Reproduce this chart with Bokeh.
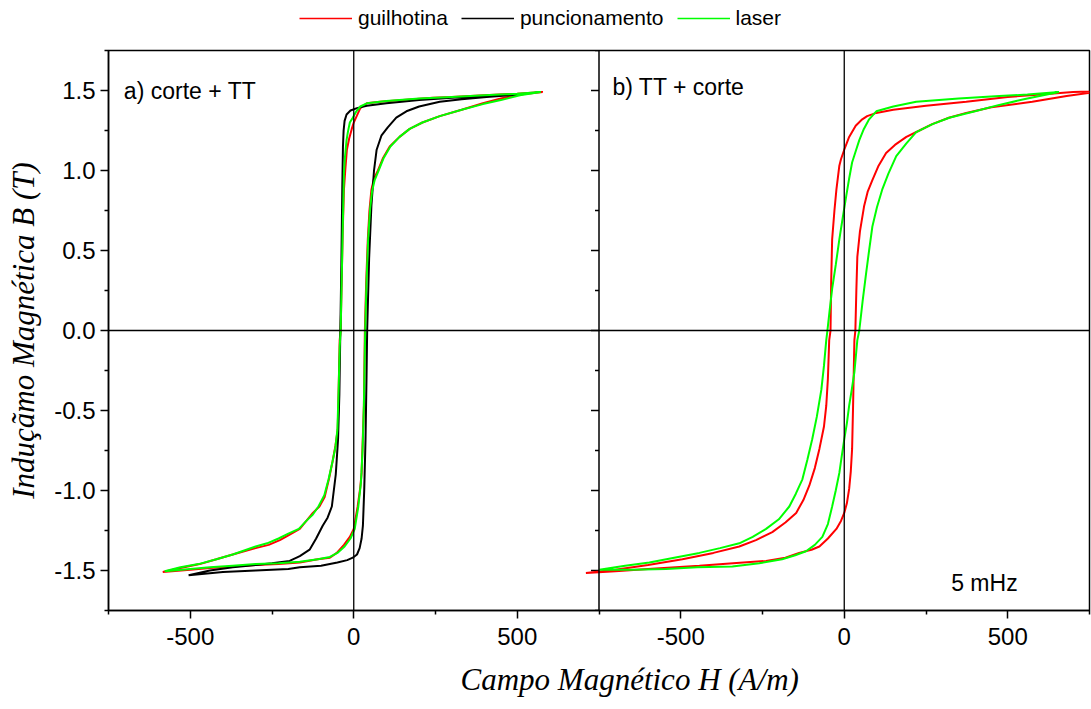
import math
from bokeh.plotting import figure
from bokeh.layouts import column
from bokeh.models import (Range1d, FixedTicker, Span, Label, Legend, LegendItem, Title,
                          PrintfTickFormatter)
from bokeh.embed import file_html
from bokeh.resources import INLINE

# ---------------- data ----------------
# panel a) corte + TT : loops go from +H tip (descending branch) to -H tip and back (ascending)
a_guil_H = [578, 500, 400, 300, 242, 150, 80, 40, 20, 9, 0, -6, -14, -21, -26, -30, -34, -37, -40, -43, -46, -49,
            -56, -64, -75, -89, -105, -125, -145, -165, -200, -226, -260, -300, -335, -370, -420, -471, -530, -584,
            -500, -440, -370, -300, -230, -165, -110, -73, -52, -30, -12, 0, 12, 20, 24, 28, 31, 34, 38, 43, 48,
            54, 62, 74, 90, 110, 140, 171, 210, 263, 330, 395, 450, 508, 578]
a_guil_B = [1.49, 1.48, 1.47, 1.46, 1.455, 1.44, 1.43, 1.42, 1.39, 1.34, 1.30, 1.26, 1.20, 1.13, 1.00, 0.88, 0.60, 0.30, 0.0, -0.06, -0.35, -0.62,
            -0.72, -0.81, -0.92, -1.04, -1.10, -1.14, -1.19, -1.24, -1.28, -1.31, -1.34, -1.36, -1.38, -1.40, -1.43, -1.46, -1.485, -1.51,
            -1.495, -1.485, -1.475, -1.465, -1.46, -1.45, -1.43, -1.42, -1.39, -1.34, -1.29, -1.24, -1.10, -0.98, -0.89, -0.65, -0.47, 0.0, 0.30, 0.57, 0.75,
            0.88, 0.95, 1.00, 1.08, 1.15, 1.21, 1.26, 1.30, 1.34, 1.38, 1.42, 1.45, 1.475, 1.49]

a_punc_H = [508, 400, 300, 200, 100, 40, 10, -10, -22, -28, -31, -33, -35, -38, -41, -44, -48, -55, -67, -80, -95, -115,
            -135, -165, -196, -250, -300, -370, -440, -505,
            -400, -300, -200, -165, -100, -50, -20, -3, 10, 18, 24, 28, 32, 36, 39, 41, 43, 47, 54, 62, 70, 85, 104,
            130, 161, 200, 263, 330, 406, 508]
a_punc_B = [1.475, 1.465, 1.455, 1.44, 1.42, 1.405, 1.39, 1.375, 1.35, 1.31, 1.25, 1.15, 0.90, 0.40, 0.0, -0.40, -0.68, -0.90, -1.10, -1.17, -1.22, -1.30,
            -1.37, -1.41, -1.44, -1.455, -1.465, -1.48, -1.50, -1.53,
            -1.51, -1.50, -1.49, -1.48, -1.47, -1.45, -1.435, -1.42, -1.40, -1.36, -1.30, -1.22, -1.00, -0.68, -0.30, 0.0, 0.15, 0.45, 0.78, 1.00, 1.13, 1.22, 1.27,
            1.33, 1.37, 1.40, 1.43, 1.445, 1.46, 1.475]

a_laser_H = [572, 500, 400, 300, 200, 100, 40, 20, 8, -3, -12, -18, -22, -27, -30, -34, -37, -40, -43, -46, -50,
             -56, -65, -77, -90, -108, -125, -145, -168, -200, -230, -265, -300, -335, -370, -420, -475, -530, -578,
             -500, -440, -370, -300, -230, -165, -110, -73, -50, -28, -10, 3, 14, 22, 27, 31, 35, 39, 44, 50,
             56, 64, 76, 92, 112, 140, 171, 210, 263, 330, 395, 450, 508, 572]
a_laser_B = [1.49, 1.48, 1.47, 1.46, 1.45, 1.435, 1.42, 1.40, 1.37, 1.33, 1.30, 1.24, 1.19, 1.08, 0.99, 0.60, 0.30, 0.0, -0.10, -0.35, -0.62,
             -0.73, -0.82, -0.93, -1.03, -1.10, -1.15, -1.19, -1.24, -1.27, -1.30, -1.33, -1.35, -1.375, -1.40, -1.43, -1.46, -1.48, -1.505,
             -1.49, -1.48, -1.47, -1.46, -1.455, -1.445, -1.43, -1.415, -1.39, -1.35, -1.30, -1.24, -1.10, -0.95, -0.75, -0.47, 0.0, 0.30, 0.57, 0.76,
             0.87, 0.94, 1.00, 1.08, 1.15, 1.21, 1.26, 1.30, 1.34, 1.38, 1.415, 1.44, 1.47, 1.49]

# panel b) TT + corte
b_guil_H = [780, 700, 600, 500, 373, 250, 150, 98, 70, 55, 35, 15, 0, -10, -15, -24, -30, -37, -40, -42, -46, -50,
            -55, -62, -76, -90, -107, -125, -147, -180, -220, -270, -321, -400, -495, -600, -700, -790,
            -700, -600, -443, -340, -239, -180, -138, -100, -76, -50, -24, -10, 0, 8, 15, 20, 24, 27, 31, 34, 37, 40,
            48, 61, 72, 86, 105, 128, 155, 190, 230, 269, 320, 373, 450, 575, 680, 780]
b_guil_B = [1.495, 1.49, 1.475, 1.46, 1.43, 1.405, 1.38, 1.36, 1.34, 1.32, 1.28, 1.21, 1.13, 1.07, 1.03, 0.88, 0.75, 0.57, 0.30, 0.0, -0.06, -0.30,
            -0.47, -0.60, -0.74, -0.86, -0.97, -1.06, -1.14, -1.20, -1.26, -1.31, -1.35, -1.39, -1.43, -1.465, -1.495, -1.515,
            -1.505, -1.49, -1.47, -1.455, -1.44, -1.42, -1.39, -1.37, -1.35, -1.30, -1.24, -1.19, -1.14, -1.08, -0.99, -0.88, -0.74, -0.47, -0.06, 0.0, 0.25, 0.46,
            0.62, 0.78, 0.87, 0.94, 1.03, 1.11, 1.16, 1.21, 1.25, 1.29, 1.33, 1.36, 1.395, 1.43, 1.465, 1.495]

b_laser_H = [657, 560, 474, 350, 220, 150, 98, 76, 60, 46, 35, 24, 15, 6, -5, -15, -26, -37, -45, -52, -55, -62,
             -70, -84, -98, -113, -128, -148, -168, -200, -239, -280, -321, -380, -443, -520, -596, -670, -749,
             -650, -545, -450, -342, -260, -190, -150, -117, -90, -67, -50, -37, -26, -15, -8, 0, 8, 15, 23, 31, 36,
             40, 46, 56, 67, 76, 86, 100, 116, 135, 159, 190, 220, 270, 321, 400, 474, 560, 657]
b_laser_B = [1.49, 1.475, 1.465, 1.45, 1.43, 1.40, 1.37, 1.32, 1.26, 1.19, 1.12, 1.05, 0.95, 0.84, 0.70, 0.57, 0.41, 0.26, 0.12, -0.01, -0.06, -0.22,
             -0.37, -0.54, -0.68, -0.81, -0.93, -1.02, -1.10, -1.18, -1.24, -1.29, -1.33, -1.36, -1.39, -1.42, -1.45, -1.47, -1.495,
             -1.495, -1.49, -1.48, -1.475, -1.455, -1.43, -1.405, -1.38, -1.34, -1.29, -1.21, -1.10, -1.00, -0.89, -0.79, -0.68, -0.58, -0.47, -0.37, -0.26, -0.15,
             -0.06, 0.0, 0.18, 0.36, 0.50, 0.65, 0.77, 0.88, 0.98, 1.09, 1.17, 1.24, 1.29, 1.33, 1.37, 1.41, 1.45, 1.49]

series_labels = ["guilhotina", "puncionamento", "laser"]
panel_titles = ["a) corte + TT", "b) TT + corte"]
freq_label = "5 mHz"
x_label = "Campo Magnético H (A/m)"
y_label = "Induçãmo Magnética B (T)"

X_MIN, X_MAX = -750, 750
Y_MIN, Y_MAX = -1.75, 1.75
X_TICKS = [-500, 0, 500]
X_MINOR = [-750, -250, 250, 750]
Y_TICKS = [-1.5, -1.0, -0.5, 0.0, 0.5, 1.0, 1.5]
Y_MINOR = [-1.75, -1.25, -0.75, -0.25, 0.25, 0.75, 1.25, 1.75]

# ---------------- styling ----------------
SPAN = X_MAX - X_MIN
SANS = "Liberation Sans"
SERIF = "Liberation Serif"
RED, BLACK, GREEN = "#ff0000", "#000000", "#00ff00"
W = 1091

# ---------------- legend strip (sample lines only, no data drawn) ----------------
lf = figure(width=W, height=42, output_backend="svg", toolbar_location=None,
            x_range=Range1d(0, 1), y_range=Range1d(0, 1),
            min_border_left=0, min_border_right=0, min_border_top=0, min_border_bottom=0)
lf.axis.visible = False
lf.grid.visible = False
lf.outline_line_color = None
lf.border_fill_color = "white"
lr = [lf.line([math.nan], [math.nan], line_color=c, line_width=1.5) for c in (RED, BLACK, GREEN)]
legend = Legend(items=[LegendItem(label=lab, renderers=[r]) for lab, r in zip(series_labels, lr)],
                orientation="horizontal", location=(191, 12), glyph_width=53, glyph_height=20,
                label_standoff=6, spacing=13, padding=0, margin=0,
                border_line_color=None, background_fill_alpha=0,
                label_text_font=SANS, label_text_font_size="21px", label_text_color="black")
lf.add_layout(legend, "center")

# ---------------- main plot ----------------
p = figure(width=W, height=667, output_backend="svg", toolbar_location=None,
           x_range=Range1d(X_MIN, X_MAX + SPAN), y_range=Range1d(Y_MIN, Y_MAX),
           min_border_left=108, min_border_right=2, min_border_top=8, min_border_bottom=98)
p.extra_x_ranges = {"b": Range1d(X_MIN - SPAN, X_MAX)}
p.xgrid.visible = False
p.ygrid.visible = False
p.outline_line_color = "black"
p.outline_line_width = 1.5
p.outline_line_alpha = 1.0
p.background_fill_color = "white"
p.border_fill_color = "white"

xa = p.xaxis[0]
xa.ticker = FixedTicker(ticks=X_TICKS + [t + SPAN for t in X_TICKS],
                        minor_ticks=X_MINOR + [t + SPAN for t in X_MINOR])
xa.formatter = PrintfTickFormatter(format="%d")
xa.major_label_overrides = {t + SPAN: str(t) for t in X_TICKS}
ya = p.yaxis[0]
ya.ticker = FixedTicker(ticks=Y_TICKS, minor_ticks=Y_MINOR)
ya.formatter = PrintfTickFormatter(format="%.1f")
for ax in (xa, ya):
    ax.axis_line_color = "black"
    ax.axis_line_width = 1.5
    ax.major_tick_line_color = "black"
    ax.minor_tick_line_color = "black"
    ax.major_tick_line_width = 1.5
    ax.minor_tick_line_width = 1.5
    ax.major_tick_out = 8
    ax.major_tick_in = 0
    ax.minor_tick_out = 4
    ax.minor_tick_in = 0
    ax.major_label_text_font = SANS
    ax.major_label_text_font_size = "24px"
    ax.major_label_text_color = "black"
xa.major_label_standoff = 9
ya.major_label_standoff = 5
ya.axis_label = y_label
ya.axis_label_text_font = SERIF
ya.axis_label_text_font_size = "31px"
ya.axis_label_text_font_style = "italic"
ya.axis_label_text_color = "black"
ya.axis_label_standoff = 10

# zero lines and panel divider
p.add_layout(Span(location=0, dimension="width", line_color="black", line_width=1.3))
p.add_layout(Span(location=0, dimension="height", line_color="black", line_width=1.3))
p.add_layout(Span(location=0, dimension="height", line_color="black", line_width=1.3, x_range_name="b"))
p.add_layout(Span(location=X_MAX, dimension="height", line_color="black", line_width=1.5))
p.ray(x=[X_MAX] * len(Y_TICKS), y=Y_TICKS, length=8, length_units="screen", angle=math.pi,
      line_color="black", line_width=1.5)
p.ray(x=[X_MAX] * len(Y_MINOR), y=Y_MINOR, length=4, length_units="screen", angle=math.pi,
      line_color="black", line_width=1.5)

# curves
p.line(a_guil_H, a_guil_B, line_color=RED, line_width=2)
p.line(a_punc_H, a_punc_B, line_color=BLACK, line_width=2)
p.line(a_laser_H, a_laser_B, line_color=GREEN, line_width=2)
p.line(b_guil_H, b_guil_B, line_color=RED, line_width=2, x_range_name="b")
p.line(b_laser_H, b_laser_B, line_color=GREEN, line_width=2, x_range_name="b")

# texts
p.add_layout(Label(x=-703, y=1.5, text=panel_titles[0], text_font=SANS, text_font_size="23px",
                   text_color="black", text_baseline="alphabetic"))
p.add_layout(Label(x=-709, y=1.525, text=panel_titles[1], text_font=SANS, text_font_size="23px",
                   text_color="black", text_baseline="alphabetic", x_range_name="b"))
p.add_layout(Label(x=327, y=-1.575, text=freq_label, text_font=SANS, text_font_size="23px",
                   text_color="black", text_baseline="alphabetic", x_range_name="b"))

p.add_layout(Title(text=x_label, align="left", offset=352, text_font=SERIF, text_font_size="31px",
                   text_font_style="italic", text_color="black", standoff=25), "below")

open("out.html", "w").write(file_html(column(lf, p), INLINE))
